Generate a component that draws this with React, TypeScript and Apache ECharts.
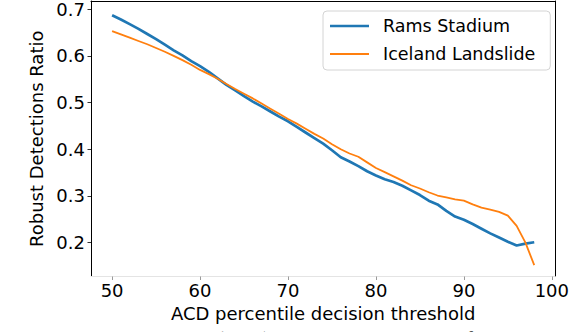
import React, { useEffect, useRef } from "react";
import * as echarts from "echarts";

const thresholds = [
  50, 51, 52, 53, 54, 55, 56, 57, 58, 59, 60, 61, 62, 63, 64, 65, 66, 67, 68, 69, 70, 71, 72, 73, 74,
  75, 76, 77, 78, 79, 80, 81, 82, 83, 84, 85, 86, 87, 88, 89, 90, 91, 92, 93, 94, 95, 96, 97, 98,
];

const ramsStadium = [
  0.687, 0.678, 0.668, 0.658, 0.647, 0.636, 0.624, 0.612, 0.601, 0.589, 0.578, 0.566, 0.552, 0.538,
  0.526, 0.514, 0.502, 0.492, 0.481, 0.47, 0.46, 0.448, 0.436, 0.424, 0.412, 0.398, 0.383, 0.374,
  0.364, 0.353, 0.344, 0.336, 0.33, 0.322, 0.312, 0.302, 0.29, 0.282, 0.268, 0.256, 0.249, 0.24, 0.23,
  0.22, 0.211, 0.202, 0.194, 0.198, 0.201,
];

const icelandLandslide = [
  0.653, 0.646, 0.639, 0.632, 0.625, 0.617, 0.609, 0.6, 0.591, 0.581, 0.57, 0.561, 0.551, 0.54,
  0.529, 0.519, 0.509, 0.498, 0.487, 0.476, 0.465, 0.455, 0.444, 0.433, 0.423, 0.411, 0.4, 0.391,
  0.384, 0.372, 0.36, 0.351, 0.342, 0.333, 0.323, 0.316, 0.308, 0.301, 0.297, 0.293, 0.29, 0.282,
  0.275, 0.271, 0.266, 0.258, 0.236, 0.2, 0.152,
];

const seriesNames = ["Rams Stadium", "Iceland Landslide"];
const xTicks = [50, 60, 70, 80, 90, 100];
const yTicks = [0.2, 0.3, 0.4, 0.5, 0.6, 0.7];
const xAxisTitle = "ACD percentile decision threshold";
const yAxisTitle = "Robust Detections Ratio";
const captionText = "detections that are robust (w.r.t.) to the CycleGAN transformation";

const FONT = "DejaVu Sans";

export default function App() {
  const ref = useRef<HTMLDivElement>(null);

  useEffect(() => {
    if (!ref.current) return;
    const chart = echarts.init(ref.current, null, { renderer: "svg" });
    const xMin = 47.6;
    const xMax = 100.4;
    const yMin = 0.1276;
    const yMax = 0.7176;
    const labelStyle = { fontFamily: FONT, fontSize: 18, color: "#000" };

    chart.setOption({
      animation: false,
      backgroundColor: "#fff",
      grid: { left: 91, right: 12, top: 1, bottom: 55.5, containLabel: false },
      legend: {
        orient: "vertical",
        left: 323,
        top: 11,
        padding: [6, 15, 7, 7],
        itemGap: 10,
        itemWidth: 39,
        itemHeight: 18,
        symbolKeepAspect: true,
        backgroundColor: "#fff",
        borderColor: "#d4d4d4",
        borderWidth: 1,
        borderRadius: 4,
        textStyle: { fontFamily: FONT, fontSize: 17.5, color: "#000", padding: [0, 0, 0, 9] },
        data: [
          { name: seriesNames[0], icon: "path://M0,0H39V2.7H0Z" },
          { name: seriesNames[1], icon: "path://M0,0H39V1.8H0Z" },
        ],
      },
      xAxis: [
        {
          type: "value",
          min: xMin,
          max: xMax,
          name: xAxisTitle,
          nameLocation: "middle",
          nameGap: 25,
          nameTextStyle: labelStyle,
          axisLine: { show: true, lineStyle: { color: "#e4e4e4", width: 1 } },
          axisTick: {
            show: true,
            length: 3.5,
            customValues: xTicks,
            lineStyle: { color: "#9a9a9a", width: 1 },
          },
          axisLabel: {
            ...labelStyle,
            margin: 5,
            customValues: xTicks,
            formatter: (v: number) => String(Math.round(v)),
          },
          splitLine: { show: false },
        },
        {
          type: "value",
          position: "top",
          min: xMin,
          max: xMax,
          axisLine: { show: true, onZero: false, lineStyle: { color: "#000", width: 1 } },
          axisTick: { show: false },
          axisLabel: { show: false },
          splitLine: { show: false },
        },
      ],
      yAxis: [
        {
          type: "value",
          min: yMin,
          max: yMax,
          name: yAxisTitle,
          nameLocation: "middle",
          nameGap: 33,
          nameTextStyle: labelStyle,
          axisLine: { show: true, onZero: false, lineStyle: { color: "#000", width: 1 } },
          axisTick: {
            show: true,
            length: 3.5,
            customValues: yTicks,
            lineStyle: { color: "#333", width: 1 },
          },
          axisLabel: {
            ...labelStyle,
            margin: 6,
            customValues: yTicks,
            formatter: (v: number) => v.toFixed(1),
          },
          splitLine: { show: false },
        },
        {
          type: "value",
          position: "right",
          min: yMin,
          max: yMax,
          axisLine: { show: true, onZero: false, lineStyle: { color: "#000", width: 1 } },
          axisTick: { show: false },
          axisLabel: { show: false },
          splitLine: { show: false },
        },
      ],
      graphic: [
        {
          type: "text",
          x: -4,
          y: 328.5,
          silent: true,
          style: {
            text: captionText,
            fontFamily: "Liberation Serif",
            fontStyle: "italic",
            fontSize: 21,
            fill: "#555",
            verticalAlign: "top",
            align: "left",
          },
        },
      ],
      series: [
        {
          name: seriesNames[0],
          type: "line",
          symbol: "none",
          xAxisIndex: 0,
          yAxisIndex: 0,
          lineStyle: { color: "#1f77b4", width: 2.7 },
          itemStyle: { color: "#1f77b4" },
          data: thresholds.map((x, i) => [x, ramsStadium[i]]),
          z: 3,
        },
        {
          name: seriesNames[1],
          type: "line",
          symbol: "none",
          xAxisIndex: 0,
          yAxisIndex: 0,
          lineStyle: { color: "#ff7f0e", width: 1.8 },
          itemStyle: { color: "#ff7f0e" },
          data: thresholds.map((x, i) => [x, icelandLandslide[i]]),
          z: 4,
        },
      ],
    });

    return () => chart.dispose();
  }, []);

  return (
    <div
      ref={ref}
      style={{ position: "fixed", left: 0, top: 0, width: 572, height: 332, background: "#fff" }}
    />
  );
}
